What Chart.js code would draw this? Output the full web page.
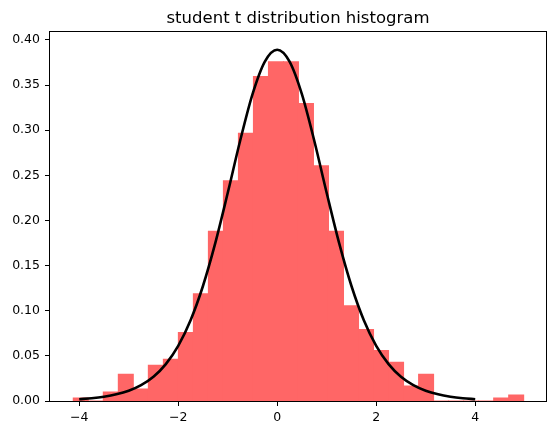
<!DOCTYPE html>
<html lang="en">

<head>
    <meta charset="UTF-8">
    <title>student t distribution histogram</title>
    <script src="https://cdn.jsdelivr.net/npm/chart.js"></script>
    <style>
        html, body { margin: 0; padding: 0; background: #fff; }
        canvas { display: block; }
    </style>
</head>

<body>
    <canvas id="graphique" width="556" height="435"></canvas>
    <script>
        // Histogram: bins start at binStart, all binWidth wide
        const binStart = -4.12;
        const binWidth = 0.3033;
        const histDensity = [
            0.0033, 0, 0.0099, 0.0297, 0.0132, 0.0396, 0.0462, 0.0758, 0.1187, 0.188,
            0.244, 0.2967, 0.3594, 0.3759, 0.3759, 0.3297, 0.2605, 0.188, 0.1055, 0.0791,
            0.056, 0.0429, 0.0165, 0.0297, 0, 0, 0, 0, 0.0033, 0.0066
        ];

        // Density curve
        const curveX = [
            -4, -3.75, -3.5, -3.25, -3, -2.75, -2.5, -2.25, -2, -1.75, -1.5, -1.25, -1, -0.75, -0.5, -0.25,
            0, 0.25, 0.5, 0.75, 1, 1.25, 1.5, 1.75, 2, 2.25, 2.5, 2.75, 3, 3.25, 3.5, 3.75, 4
        ];
        const curveY = [
            0.0020, 0.0031, 0.0048, 0.0074, 0.0114, 0.0176, 0.0269, 0.0409, 0.0611, 0.0895, 0.1274, 0.1751,
            0.2304, 0.2880, 0.3397, 0.3760, 0.3891, 0.3760, 0.3397, 0.2880, 0.2304, 0.1751, 0.1274, 0.0895,
            0.0611, 0.0409, 0.0269, 0.0176, 0.0114, 0.0074, 0.0048, 0.0031, 0.0020
        ];

        const xTicks = [-4, -2, 0, 2, 4];
        const yTicks = [0, 0.05, 0.10, 0.15, 0.20, 0.25, 0.30, 0.35, 0.40];
        const titre = "student t distribution histogram";

        const barData = histDensity.map((v, i) => ({ x: binStart + (i + 0.5) * binWidth, y: v }));
        const lineData = curveX.map((x, i) => ({ x: x, y: curveY[i] }));

        // Cadre noir autour de la zone du graphique
        const cadre = {
            id: "cadre",
            afterDraw(chart) {
                const a = chart.chartArea;
                const ctx = chart.ctx;
                ctx.save();
                ctx.strokeStyle = "#000";
                ctx.lineWidth = 1;
                ctx.strokeRect(Math.round(a.left) - 0.5, Math.round(a.top) - 0.5,
                    Math.round(a.right - a.left) + 1, Math.round(a.bottom - a.top) + 1);
                ctx.restore();
            }
        };

        const police = "'DejaVu Sans', sans-serif";

        new Chart(document.getElementById("graphique"), {
            data: {
                datasets: [
                    {
                        type: "line",
                        data: lineData,
                        borderColor: "#000",
                        borderWidth: 2.6,
                        pointRadius: 0,
                        cubicInterpolationMode: "monotone",
                        order: 0,
                    },
                    {
                        type: "bar",
                        data: barData,
                        backgroundColor: "rgb(255, 102, 102)",
                        borderWidth: 0,
                        barPercentage: 1,
                        categoryPercentage: 1,
                        inflateAmount: 0.5,
                        order: 1,
                    }
                ]
            },
            options: {
                responsive: false,
                animation: false,
                layout: { padding: { left: 0, right: 10, top: 0, bottom: 0 } },
                plugins: {
                    legend: { display: false },
                    tooltip: { enabled: false },
                    title: {
                        display: true,
                        text: titre,
                        fullSize: false,
                        color: "#000",
                        font: { family: police, size: 16.5, weight: "normal" },
                        padding: { top: 9, bottom: 3 },
                    },
                },
                scales: {
                    x: {
                        type: "linear",
                        min: -4.59,
                        max: 5.43,
                        offset: false,
                        afterBuildTicks: s => { s.ticks = xTicks.map(v => ({ value: v })); },
                        afterFit: s => { s.height = 34; },
                        grid: { display: true, offset: false, drawOnChartArea: false, drawTicks: true, tickLength: 5, color: "#000" },
                        border: { display: false },
                        ticks: {
                            color: "#000",
                            padding: 4,
                            maxRotation: 0,
                            font: { family: police, size: 12.5 },
                            callback: v => (v < 0 ? "\u2212" + Math.abs(v) : String(v)),
                        },
                    },
                    y: {
                        type: "linear",
                        min: 0,
                        max: 0.409,
                        afterBuildTicks: s => { s.ticks = yTicks.map(v => ({ value: v })); },
                        afterFit: s => { s.width = 50; },
                        grid: { display: true, drawOnChartArea: false, drawTicks: true, tickLength: 5, color: "#000" },
                        border: { display: false },
                        ticks: {
                            color: "#000",
                            padding: 5,
                            font: { family: police, size: 12.5 },
                            callback: v => v.toFixed(2),
                        },
                    },
                },
            },
            plugins: [cadre],
        });
    </script>
</body>

</html>
